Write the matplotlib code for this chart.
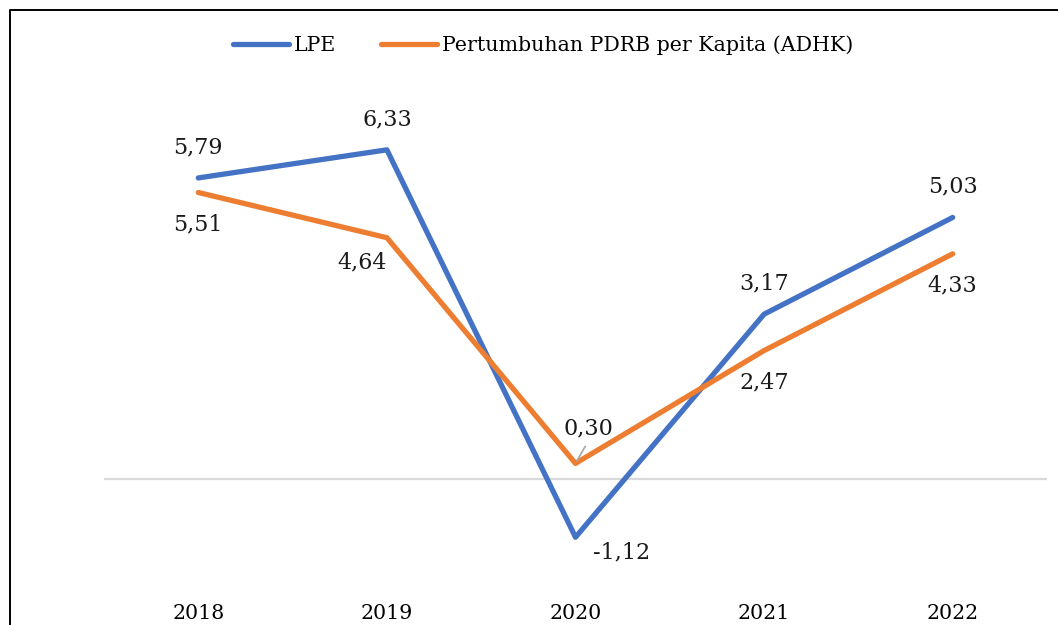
import matplotlib.pyplot as plt
from matplotlib.lines import Line2D

years = ['2018', '2019', '2020', '2021', '2022']
lpe = [5.79, 6.33, -1.12, 3.17, 5.03]
pdrb = [5.51, 4.64, 0.30, 2.47, 4.33]
lpe_labels = ['5,79', '6,33', '-1,12', '3,17', '5,03']
pdrb_labels = ['5,51', '4,64', '0,30', '2,47', '4,33']

blue = '#4472C4'
orange = '#ED7D31'
plt.rcParams['font.family'] = ['DejaVu Serif']

W, H = 1058, 625
fig = plt.figure(figsize=(W / 100, H / 100), dpi=100)
ax = fig.add_axes([104 / W, 42 / H, 943 / W, 520 / H])

x = list(range(len(years)))
ax.plot(x, lpe, color=blue, lw=3.8, solid_capstyle='round', label='LPE')
ax.plot(x, pdrb, color=orange, lw=3.8, solid_capstyle='round',
        label='Pertumbuhan PDRB per Kapita (ADHK)')
ax.axhline(0, color='#D9D9D9', lw=1.6, zorder=0)

ax.set_xlim(-0.5, 4.5)
ax.set_ylim(-2, 8)
ax.set_xticks(x)
ax.set_xticklabels(years, fontsize=14.8)
ax.tick_params(axis='x', length=0, pad=15)
ax.set_yticks([])
for s in ax.spines.values():
    s.set_visible(False)

fs = 16
# offsets in points (px * 0.72)
lpe_off = [(0, 22), (0, 22), (33, -11), (0, 22), (0, 22)]
pdrb_off = [(0, -23), (-18, -18), (9, 25), (0, -23), (0, -23)]
for i in x:
    ax.annotate(lpe_labels[i], (i, lpe[i]), xytext=lpe_off[i], textcoords='offset points',
                ha='center', va='center', fontsize=fs, color='#1a1a1a')
    ax.annotate(pdrb_labels[i], (i, pdrb[i]), xytext=pdrb_off[i], textcoords='offset points',
                ha='center', va='center', fontsize=fs, color='#1a1a1a')

# leader line for 0,30
ax.annotate('', (2, pdrb[2]), xytext=(8, 14), textcoords='offset points',
            arrowprops=dict(arrowstyle='-', color='#A6A6A6', lw=1.2))

fig.legend(loc='center', bbox_to_anchor=(543 / W, 1 - 45 / H), ncol=2, frameon=False,
           fontsize=14.8, handlelength=2.7, handletextpad=0.25, columnspacing=2.2)

# chart border (left and top edges)
fig.add_artist(Line2D([10 / W, 10 / W, 1], [0, 1 - 10 / H, 1 - 10 / H],
                      transform=fig.transFigure, color='black', lw=1.4))

plt.savefig('out.png', dpi=100)
